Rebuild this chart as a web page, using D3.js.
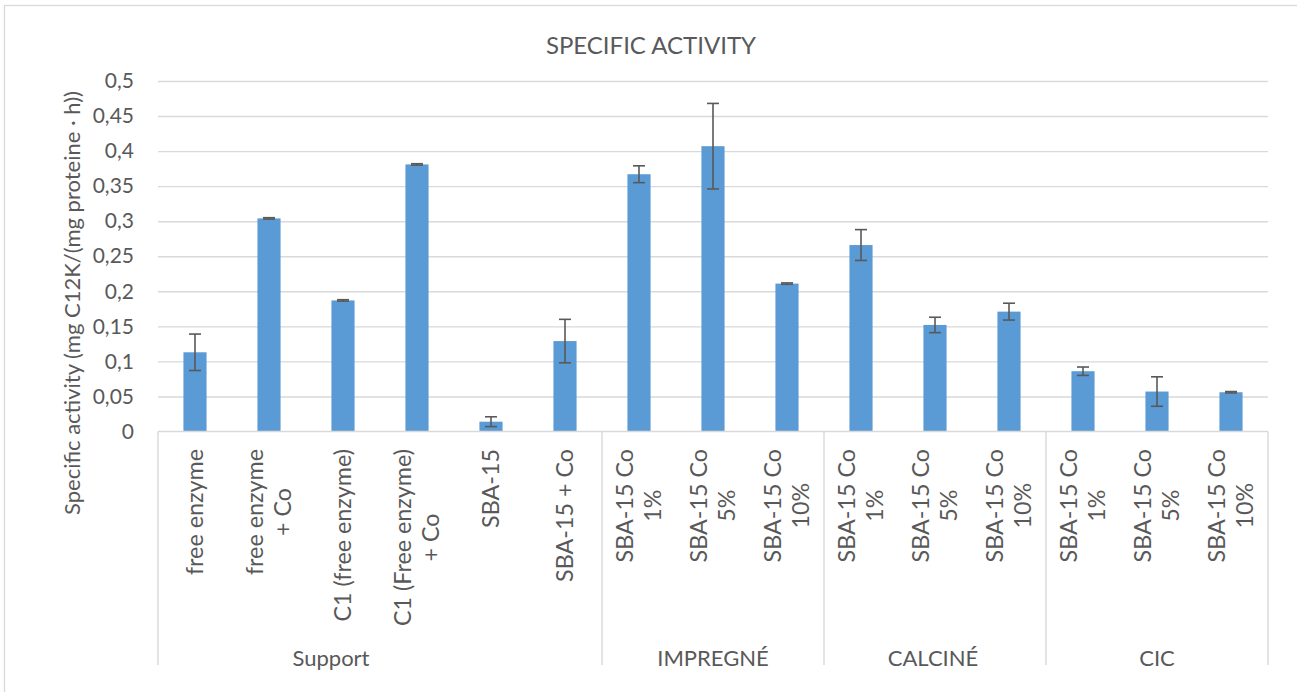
<!DOCTYPE html>
<html>
<head>
<meta charset="utf-8">
<script src="https://cdn.jsdelivr.net/npm/d3@7"></script>
<style>
  html, body { margin: 0; padding: 0; background: #ffffff; }
  svg { display: block; font-family: Lato, "Open Sans", sans-serif; }
</style>
</head>
<body>
<svg id="chart" width="1297" height="692"></svg>
<script>
// Category labels (line breaks marked with \n)
const categories = [
  "free enzyme", "free enzyme\n+ Co", "C1 (free enzyme)", "C1 (Free enzyme)\n+ Co",
  "SBA-15", "SBA-15 + Co",
  "SBA-15 Co\n1%", "SBA-15 Co\n5%", "SBA-15 Co\n10%",
  "SBA-15 Co\n1%", "SBA-15 Co\n5%", "SBA-15 Co\n10%",
  "SBA-15 Co\n1%", "SBA-15 Co\n5%", "SBA-15 Co\n10%"
];
// Specific activity, mg C12K / (mg proteine · h)
const activity = [0.113, 0.304, 0.187, 0.381, 0.014, 0.129,
                  0.367, 0.407, 0.211,
                  0.266, 0.152, 0.171,
                  0.086, 0.057, 0.056];
// Standard deviation shown as error bars
const activityError = [0.026, 0.001, 0.001, 0.001, 0.007, 0.031,
                       0.012, 0.061, 0.001,
                       0.022, 0.011, 0.012,
                       0.006, 0.021, 0.001];
// Outer category groups and how many categories each spans
const groupNames = ["Support", "IMPREGNÉ", "CALCINÉ", "CIC"];
const groupSizes = [6, 3, 3, 3];
// Value axis ticks
const yTicks = [0, 0.05, 0.1, 0.15, 0.2, 0.25, 0.3, 0.35, 0.4, 0.45, 0.5];
const yTickLabels = ["0", "0,05", "0,1", "0,15", "0,2", "0,25", "0,3", "0,35", "0,4", "0,45", "0,5"];

const chartTitle = "SPECIFIC ACTIVITY";
const yTitle = "Specific activity (mg C12K/(mg proteine · h))";

const svg = d3.select("#chart");
const textColor = "#595959";
const gridColor = "#d9d9d9";
const barColor = "#5b9bd5";

const plot = { left: 158, right: 1268, top: 81, bottom: 431.5 };

const x = d3.scaleBand()
  .domain(d3.range(categories.length))
  .range([plot.left, plot.right])
  .paddingInner(0.6875)
  .paddingOuter(0.6875 / 2);

const y = d3.scaleLinear()
  .domain([0, 0.5])
  .range([plot.bottom, plot.top]);

// chart frame (only top and left edges fall inside the canvas)
svg.append("rect")
  .attr("x", 4.5).attr("y", 5.5)
  .attr("width", 1310).attr("height", 700)
  .attr("fill", "none")
  .attr("stroke", gridColor)
  .attr("stroke-width", 1.3);

// title
svg.append("text")
  .attr("x", 651).attr("y", 53.5)
  .attr("text-anchor", "middle")
  .attr("font-size", 24)
  .attr("fill", textColor)
  .text(chartTitle);

// horizontal gridlines
svg.append("g")
  .attr("transform", `translate(${plot.left},0)`)
  .call(d3.axisLeft(y)
    .tickValues(yTicks.filter(d => d > 0))
    .tickSize(-(plot.right - plot.left))
    .tickFormat(""))
  .call(g => g.select(".domain").remove())
  .call(g => g.selectAll(".tick line")
    .attr("stroke", gridColor)
    .attr("stroke-width", 1.4));

// value axis labels
svg.append("g")
  .attr("transform", `translate(${plot.left},0)`)
  .call(d3.axisLeft(y)
    .tickValues(yTicks)
    .tickSize(0)
    .tickPadding(24)
    .tickFormat((d, i) => yTickLabels[i]))
  .call(g => g.select(".domain").remove())
  .call(g => g.selectAll(".tick text")
    .attr("font-family", "Lato, 'Open Sans', sans-serif")
    .attr("font-size", 21)
    .attr("fill", textColor));

// value axis title
svg.append("text")
  .attr("transform", "translate(72,303) rotate(-90)")
  .attr("text-anchor", "middle")
  .attr("dy", "0.35em")
  .attr("font-size", 22)
  .attr("fill", textColor)
  .text(yTitle);

// bars
svg.append("g")
  .selectAll("rect")
  .data(activity)
  .join("rect")
  .attr("x", (d, i) => x(i))
  .attr("y", d => y(d))
  .attr("width", x.bandwidth())
  .attr("height", d => y(0) - y(d))
  .attr("fill", barColor);

// error bars
const capHalf = 6;
const err = svg.append("g")
  .attr("stroke", "#595959")
  .attr("stroke-width", 1.6)
  .selectAll("g")
  .data(activity)
  .join("g")
  .attr("transform", (d, i) => `translate(${x(i) + x.bandwidth() / 2},0)`);
err.append("line")
  .attr("y1", (d, i) => y(d + activityError[i]))
  .attr("y2", (d, i) => y(d - activityError[i]));
err.append("line")
  .attr("x1", -capHalf).attr("x2", capHalf)
  .attr("y1", (d, i) => y(d + activityError[i]))
  .attr("y2", (d, i) => y(d + activityError[i]));
err.append("line")
  .attr("x1", -capHalf).attr("x2", capHalf)
  .attr("y1", (d, i) => y(d - activityError[i]))
  .attr("y2", (d, i) => y(d - activityError[i]));

// category axis line
svg.append("line")
  .attr("x1", plot.left).attr("x2", plot.right)
  .attr("y1", plot.bottom).attr("y2", plot.bottom)
  .attr("stroke", gridColor)
  .attr("stroke-width", 1.4);

// group boundaries
const groupStarts = [];
let acc = 0;
groupSizes.forEach(n => { groupStarts.push(acc); acc += n; });
const boundaryX = groupStarts.map(s => plot.left + s * x.step()).concat([plot.right]);
svg.append("g")
  .selectAll("line")
  .data(boundaryX)
  .join("line")
  .attr("x1", d => d).attr("x2", d => d)
  .attr("y1", plot.bottom).attr("y2", 665)
  .attr("stroke", gridColor)
  .attr("stroke-width", 1.4);

// rotated category labels, top-aligned just under the axis
const labelSize = 23.3;
const lineHeight = 28;
const catG = svg.append("g")
  .attr("font-size", labelSize)
  .attr("fill", textColor);
categories.forEach((label, i) => {
  const lines = label.split("\n");
  const cx = x(i) + x.bandwidth() / 2;
  const t = catG.append("text")
    .attr("transform", `translate(${cx},449) rotate(-90)`)
    .attr("text-anchor", "middle");
  const spans = lines.map((ln, j) =>
    t.append("tspan")
      .attr("x", 0)
      .attr("y", (j - (lines.length - 1) / 2) * lineHeight)
      .attr("dy", "0.35em")
      .text(ln));
  const maxLen = d3.max(spans, s => s.node().getComputedTextLength());
  spans.forEach(s => s.attr("x", -maxLen / 2));
});

// group labels
const groupCenters = groupStarts.map((s, k) =>
  plot.left + (s + groupSizes[k] / 2) * x.step());
const groupShift = [-49, 0, -2, 0];
svg.append("g")
  .selectAll("text")
  .data(groupNames)
  .join("text")
  .attr("x", (d, k) => groupCenters[k] + groupShift[k])
  .attr("y", 666)
  .attr("text-anchor", "middle")
  .attr("font-size", 22)
  .attr("fill", textColor)
  .text(d => d);
</script>
</body>
</html>
